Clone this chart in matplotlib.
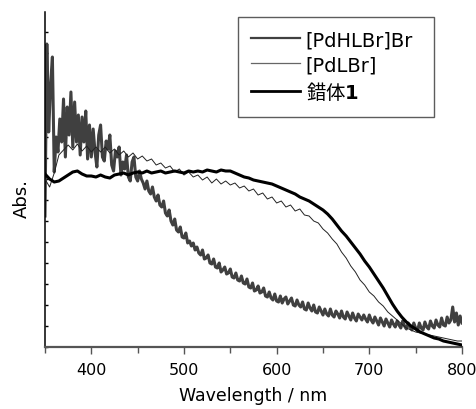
import numpy as np
import matplotlib
matplotlib.use('Agg')
import matplotlib.pyplot as plt
from matplotlib.ticker import MultipleLocator

plt.rcParams['font.family'] = ['DejaVu Sans', 'Noto Sans CJK JP']
plt.rcParams['mathtext.fontset'] = 'dejavusans'

# =========================================================
# DATA (absorbance in arbitrary units)
# =========================================================

# [PdHLBr]Br  (grey, noisy), 2 nm steps
WL_HLBR = list(range(350, 801, 2))
ABS_HLBR = [131, 303, 215, 262, 290, 175, 210, 195, 228, 205,
            248, 190, 240, 212, 255, 200, 245, 205, 232, 192,
            230, 205, 236, 188, 222, 190, 218, 195, 180, 212,
            222, 190, 186, 206, 198, 212, 182, 176, 196, 190,
            200, 172, 185, 178, 192, 170, 166, 185, 190, 170,
            166, 176, 168, 164, 158, 166, 156, 153, 160, 150,
            146, 152, 142, 140, 146, 134, 131, 137, 126, 122,
            128, 117, 115, 120, 110, 109, 114, 104, 106, 101,
            104, 97, 100, 94, 92, 97, 88, 89, 92, 84,
            83, 88, 80, 79, 84, 75, 77, 80, 73, 74,
            78, 70, 69, 74, 67, 66, 71, 64, 63, 68,
            60, 59, 64, 56, 57, 61, 54, 55, 59, 51,
            50, 55, 49, 47, 53, 46, 45, 51, 44, 48,
            50, 43, 46, 49, 42, 41, 47, 42, 40, 45,
            38, 37, 44, 39, 36, 42, 35, 34, 40, 36,
            32, 38, 33, 31, 38, 32, 30, 36, 33, 29,
            36, 30, 28, 35, 31, 27, 34, 29, 26, 33,
            30, 27, 32, 28, 25, 32, 27, 24, 30, 26,
            22, 29, 25, 21, 28, 24, 20, 27, 23, 20,
            26, 22, 19, 26, 21, 18, 24, 20, 17, 24,
            19, 16, 24, 19, 17, 25, 20, 18, 26, 21,
            19, 27, 22, 20, 29, 22, 21, 30, 24, 27,
            40, 25, 34, 22, 31, 24]

# [PdLBr]  (thin line), 5 nm steps
WL_LBR = list(range(350, 801, 5))
ABS_LBR = [168, 160, 174, 192, 197, 202, 197, 203, 196, 201, 195, 200, 195, 200, 194,
           198, 192, 196, 190, 194, 188, 191, 186, 188, 182, 184, 179, 181, 175, 178,
           172, 175, 170, 172, 167, 170, 164, 168, 163, 166, 162, 164, 159, 161, 156,
           158, 152, 154, 148, 150, 144, 146, 140, 142, 136, 138, 132, 131, 126, 124,
           118, 114, 108, 103, 95, 89, 81, 75, 67, 62, 55, 51, 45, 41, 35,
           31, 27, 23, 19, 17, 15, 14, 13, 12, 11, 10, 9, 8, 7, 6, 6]

# 錯体1  (thick black), 5 nm steps
WL_C1 = list(range(350, 801, 5))
ABS_C1 = [173, 168, 165, 166, 169, 172, 175, 176, 173, 171, 171, 170, 172, 170, 169,
          172, 173, 174, 172, 174, 175, 174, 176, 174, 175, 176, 174, 175, 176, 175,
          174, 176, 175, 176, 175, 177, 176, 175, 177, 176, 176, 174, 172, 170, 169,
          167, 166, 165, 164, 163, 161, 159, 157, 155, 153, 150, 148, 146, 143, 140,
          137, 133, 128, 122, 116, 111, 105, 99, 93, 86, 80, 73, 66, 59, 51,
          43, 36, 30, 25, 21, 18, 15, 13, 11, 9, 8, 6, 5, 4, 3, 2]

LABELS = ['[PdHLBr]Br', '[PdLBr]', '錯体$\\mathbf{1}$']

# =========================================================
# FIGURE
# =========================================================

fig = plt.figure(figsize=(4.77, 4.10), dpi=100)
ax = fig.add_axes([0.0943, 0.1512, 0.8742, 0.8171])

ax.plot(WL_HLBR, ABS_HLBR, color='#404040', lw=2.2, label=LABELS[0], zorder=2)
ax.plot(WL_LBR, ABS_LBR, color='#222222', lw=0.7, label=LABELS[1], zorder=3)
ax.plot(WL_C1, ABS_C1, color='black', lw=2.2, label=LABELS[2], zorder=4)

ax.set_xlim(350, 800)
ax.set_ylim(0, 335)

ax.spines['top'].set_visible(False)
ax.spines['right'].set_visible(False)
ax.spines['left'].set_color('black')
ax.spines['left'].set_linewidth(1.1)
ax.spines['bottom'].set_color('#555555')
ax.spines['bottom'].set_linewidth(1.6)

ax.xaxis.set_major_locator(MultipleLocator(100))
ax.xaxis.set_minor_locator(MultipleLocator(50))
ax.yaxis.set_major_locator(MultipleLocator(21))
ax.tick_params(axis='x', which='major', direction='out', length=5, width=1,
               color='#555555', labelsize=11.5, pad=6)
ax.tick_params(axis='x', which='minor', direction='out', length=4, width=1, color='#555555')
ax.tick_params(axis='y', which='major', direction='in', length=2.5, width=1,
               labelleft=False)

ax.set_xlabel('Wavelength / nm', fontsize=12.5, labelpad=6)
ax.set_ylabel('Abs.', fontsize=13)
ax.yaxis.set_label_coords(-0.033, 0.445)

leg = ax.legend(loc='upper left', bbox_to_anchor=(0.462, 0.696, 0.471, 0.290),
                mode='expand', fontsize=14, frameon=True, fancybox=False,
                handlelength=2.5, handletextpad=0.3, labelspacing=0.3,
                borderpad=0.7, borderaxespad=0)
leg.get_frame().set_edgecolor('#333333')
leg.get_frame().set_linewidth(1.0)
leg.get_texts()[2].set_family('Noto Sans CJK JP')
leg.legend_handles[0].set_linewidth(1.6)
leg.legend_handles[1].set_linewidth(0.9)
leg.legend_handles[1].set_color('#666666')
leg.legend_handles[2].set_linewidth(2.0)

fig.savefig('out.png', dpi=100)
